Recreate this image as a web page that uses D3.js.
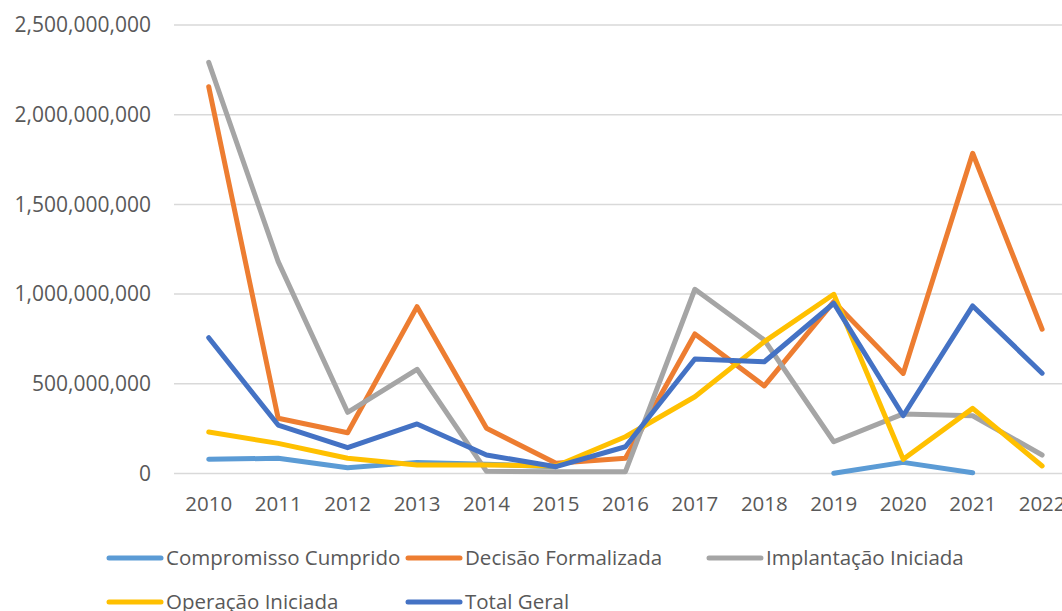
<!DOCTYPE html>
<html>
<head>
<meta charset="utf-8">
<script src="https://cdnjs.cloudflare.com/ajax/libs/d3/7.8.5/d3.min.js"></script>
<style>
  html, body { margin: 0; padding: 0; background: #fff; }
  svg { display: block; }
  text { font-family: "Open Sans", sans-serif; fill: #595959; }
</style>
</head>
<body>
<svg id="chart" width="1062" height="611"></svg>
<script>
var years = ["2010", "2011", "2012", "2013", "2014", "2015", "2016", "2017", "2018", "2019", "2020", "2021", "2022"];

// values in R$, null = no point
var compromisso = [79e6, 85e6, 32e6, 62e6, 52e6, 38e6, null, null, null, 1e6, 62e6, 4e6, null];
var decisao     = [2156e6, 308e6, 227e6, 930e6, 252e6, 57e6, 85e6, 778e6, 488e6, 958e6, 558e6, 1785e6, 804e6];
var implantacao = [2292e6, 1181e6, 341e6, 581e6, 12e6, 10e6, 10e6, 1027e6, 744e6, 177e6, 332e6, 322e6, 103e6];
var operacao    = [231e6, 168e6, 85e6, 47e6, 47e6, 42e6, 205e6, 428e6, 735e6, 999e6, 79e6, 363e6, 42e6];
var totalGeral  = [757e6, 270e6, 144e6, 276e6, 103e6, 38e6, 149e6, 638e6, 623e6, 949e6, 322e6, 934e6, 559e6];

var yTicks = [0, 500e6, 1000e6, 1500e6, 2000e6, 2500e6];

var series = [
  { name: "Compromisso Cumprido", values: compromisso, color: "#5B9BD5" },
  { name: "Decisão Formalizada",  values: decisao,     color: "#ED7D31" },
  { name: "Implantação Iniciada", values: implantacao, color: "#A5A5A5" },
  { name: "Operação Iniciada",    values: operacao,    color: "#FFC000" },
  { name: "Total Geral",          values: totalGeral,  color: "#4472C4" }
];

var svg = d3.select("#chart");
var left = 174, bandW = 69.45;

var x = d3.scaleBand()
    .domain(years)
    .range([left, left + bandW * years.length]);

var y = d3.scaleLinear()
    .domain([0, 2500e6])
    .range([473.5, 25]);

var fmt = d3.format(",");

// gridlines
svg.append("g").selectAll("line")
  .data(yTicks)
  .join("line")
    .attr("x1", left)
    .attr("x2", 1062)
    .attr("y1", function(d) { return y(d); })
    .attr("y2", function(d) { return y(d); })
    .attr("stroke", "#D9D9D9")
    .attr("stroke-width", 1.5);

// y labels
svg.append("g").selectAll("text")
  .data(yTicks)
  .join("text")
    .attr("x", 151)
    .attr("y", function(d) { return y(d); })
    .attr("dy", "0.35em")
    .attr("text-anchor", "end")
    .style("font-size", "21px")
    .text(function(d) { return fmt(d); });

// x labels
svg.append("g").selectAll("text")
  .data(years)
  .join("text")
    .attr("x", function(d) { return x(d) + x.bandwidth() / 2; })
    .attr("y", 511)
    .attr("text-anchor", "middle")
    .style("font-size", "20.5px")
    .text(function(d) { return d; });

var line = d3.line()
    .defined(function(d) { return d.v != null; })
    .x(function(d) { return x(d.year) + x.bandwidth() / 2; })
    .y(function(d) { return y(d.v); });

svg.append("g").selectAll("path")
  .data(series)
  .join("path")
    .attr("fill", "none")
    .attr("stroke", function(d) { return d.color; })
    .attr("stroke-width", 5)
    .attr("stroke-linejoin", "round")
    .attr("stroke-linecap", "round")
    .attr("d", function(s) {
      return line(s.values.map(function(v, i) { return { year: years[i], v: v }; }));
    });

// legend
var legendPos = [
  { x: 107, y: 558 }, { x: 406, y: 558 }, { x: 707, y: 558 },
  { x: 107, y: 602 }, { x: 406, y: 602 }
];

var lg = svg.append("g").selectAll("g")
  .data(series)
  .join("g")
    .attr("transform", function(d, i) { return "translate(" + legendPos[i].x + "," + legendPos[i].y + ")"; });

lg.append("line")
    .attr("x1", 2).attr("x2", 54)
    .attr("stroke", function(d) { return d.color; })
    .attr("stroke-width", 5)
    .attr("stroke-linecap", "round");

lg.append("text")
    .attr("x", 59)
    .attr("dy", "0.35em")
    .style("font-size", "20.5px")
    .text(function(d) { return d.name; });
</script>
</body>
</html>
